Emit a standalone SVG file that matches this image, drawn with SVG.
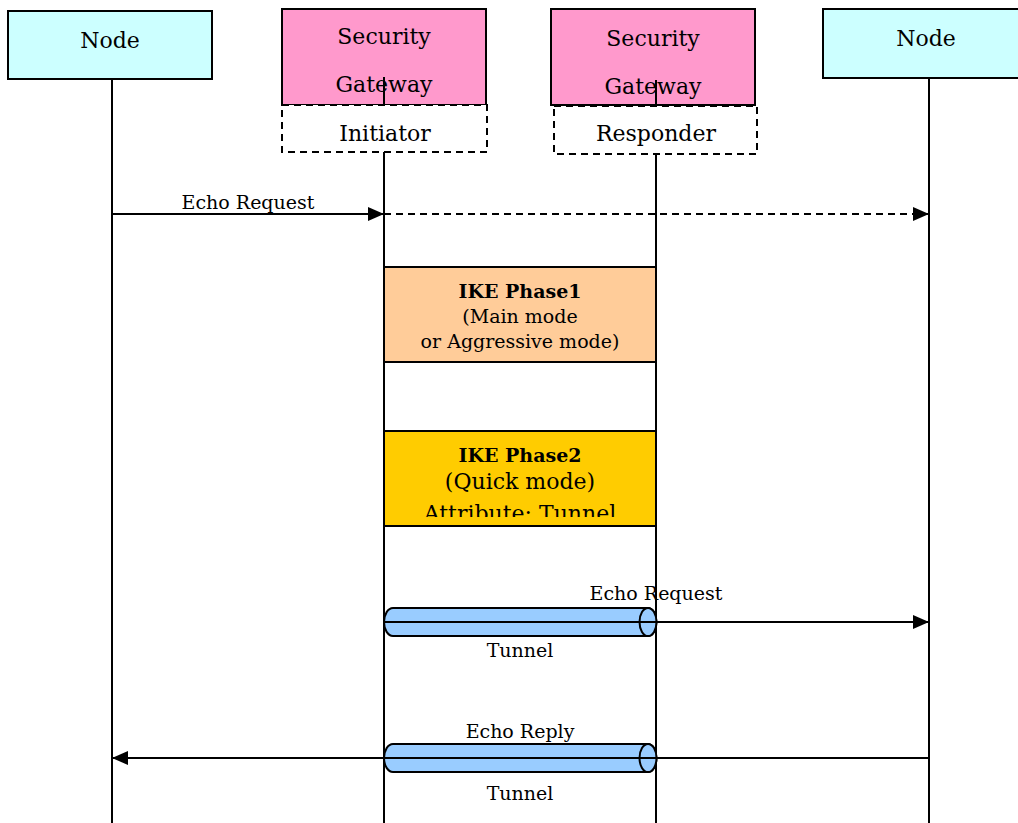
<svg xmlns="http://www.w3.org/2000/svg" width="1018" height="823" viewBox="0 0 1018 823">
<style>
text{font-family:"DejaVu Serif","Liberation Serif",serif;fill:#000;text-anchor:middle}
.big{font-size:22px}
.sm{font-size:19px}
.b{font-weight:bold}
.box{stroke:#000;stroke-width:2}
.dash{fill:#fff;stroke:#000;stroke-width:2;stroke-dasharray:7 5}
.ln{stroke:#000;stroke-width:2;fill:none}
.tube{fill:#99CCFF;stroke:#000;stroke-width:2}
</style>
<defs>
<marker id="ah" viewBox="0 0 16 14" refX="16" refY="7" markerWidth="16" markerHeight="14" markerUnits="userSpaceOnUse" orient="auto">
<path d="M0,0 L16,7 L0,14 Z" fill="#000"/>
</marker>
<clipPath id="p2clip"><rect x="384" y="431" width="272" height="86"/></clipPath>
</defs>
<g id="lifelines">
<line class="ln" x1="112" y1="79" x2="112" y2="823"/>
<line class="ln" x1="384" y1="152" x2="384" y2="823"/>
<line class="ln" x1="656" y1="154" x2="656" y2="823"/>
<line class="ln" x1="929" y1="78" x2="929" y2="823"/>
</g>
<g id="node-left">
<rect class="box" x="8" y="11" width="204" height="68" fill="#CCFFFF"/>
<text class="big" x="110" y="48">Node</text>
</g>
<g id="node-right">
<rect class="box" x="823" y="9" width="200" height="69" fill="#CCFFFF"/>
<text class="big" x="926" y="46">Node</text>
</g>
<g id="sg-initiator">
<rect class="box" x="282" y="9" width="204" height="96" fill="#FF99CC"/>
<text class="big" x="384" y="44">Security</text>
<text class="big" x="384" y="92">Gateway</text>
<line class="ln" x1="384" y1="77" x2="384" y2="105"/>
<rect class="dash" x="282" y="105" width="205" height="47"/>
<text class="big" x="385" y="141">Initiator</text>
</g>
<g id="sg-responder">
<rect class="box" x="551" y="9" width="204" height="96" fill="#FF99CC"/>
<text class="big" x="653" y="46">Security</text>
<text class="big" x="653" y="94">Gateway</text>
<line class="ln" x1="656" y1="80" x2="656" y2="106"/>
<rect class="dash" x="554" y="106" width="203" height="48"/>
<text class="big" x="656" y="141">Responder</text>
</g>
<g id="ike-phase1">
<rect class="box" x="384" y="267" width="272" height="95" fill="#FFCC99"/>
<text class="sm b" x="520" y="298">IKE Phase1</text>
<text class="sm" x="520" y="323">(Main mode</text>
<text class="sm" x="520" y="348">or Aggressive mode)</text>
</g>
<g id="ike-phase2">
<rect class="box" x="384" y="431" width="272" height="95" fill="#FFCC00"/>
<text class="sm b" x="520" y="462">IKE Phase2</text>
<text class="big" x="520" y="489">(Quick mode)</text>
<text class="big" x="520" y="521" clip-path="url(#p2clip)">Attribute: Tunnel</text>
<rect x="384" y="431" width="272" height="95" fill="none" stroke="#000" stroke-width="2"/>
</g>
<g id="tunnel1">
<path class="tube" d="M393,608 H648 A8.5,14 0 0 1 648,636 H393 A9,14 0 0 1 393,608 Z"/>
<ellipse class="tube" cx="648" cy="622" rx="8.5" ry="14"/>
<text class="sm" x="520" y="657">Tunnel</text>
</g>
<g id="tunnel2">
<path class="tube" d="M393,744 H648 A8.5,14 0 0 1 648,772 H393 A9,14 0 0 1 393,744 Z"/>
<ellipse class="tube" cx="648" cy="758" rx="8.5" ry="14"/>
<text class="sm" x="520" y="800">Tunnel</text>
</g>
<g id="connectors">
<line class="ln" x1="112" y1="214" x2="384" y2="214" marker-end="url(#ah)"/>
<line class="ln" x1="384" y1="214" x2="929" y2="214" stroke-dasharray="7 5" marker-end="url(#ah)"/>
<text class="sm" x="248" y="209">Echo Request</text>
<line class="ln" x1="384" y1="622" x2="929" y2="622" marker-end="url(#ah)"/>
<text class="sm" x="656" y="600">Echo Request</text>
<line class="ln" x1="929" y1="758" x2="112" y2="758" marker-end="url(#ah)"/>
<text class="sm" x="520" y="738">Echo Reply</text>
</g>
</svg>
